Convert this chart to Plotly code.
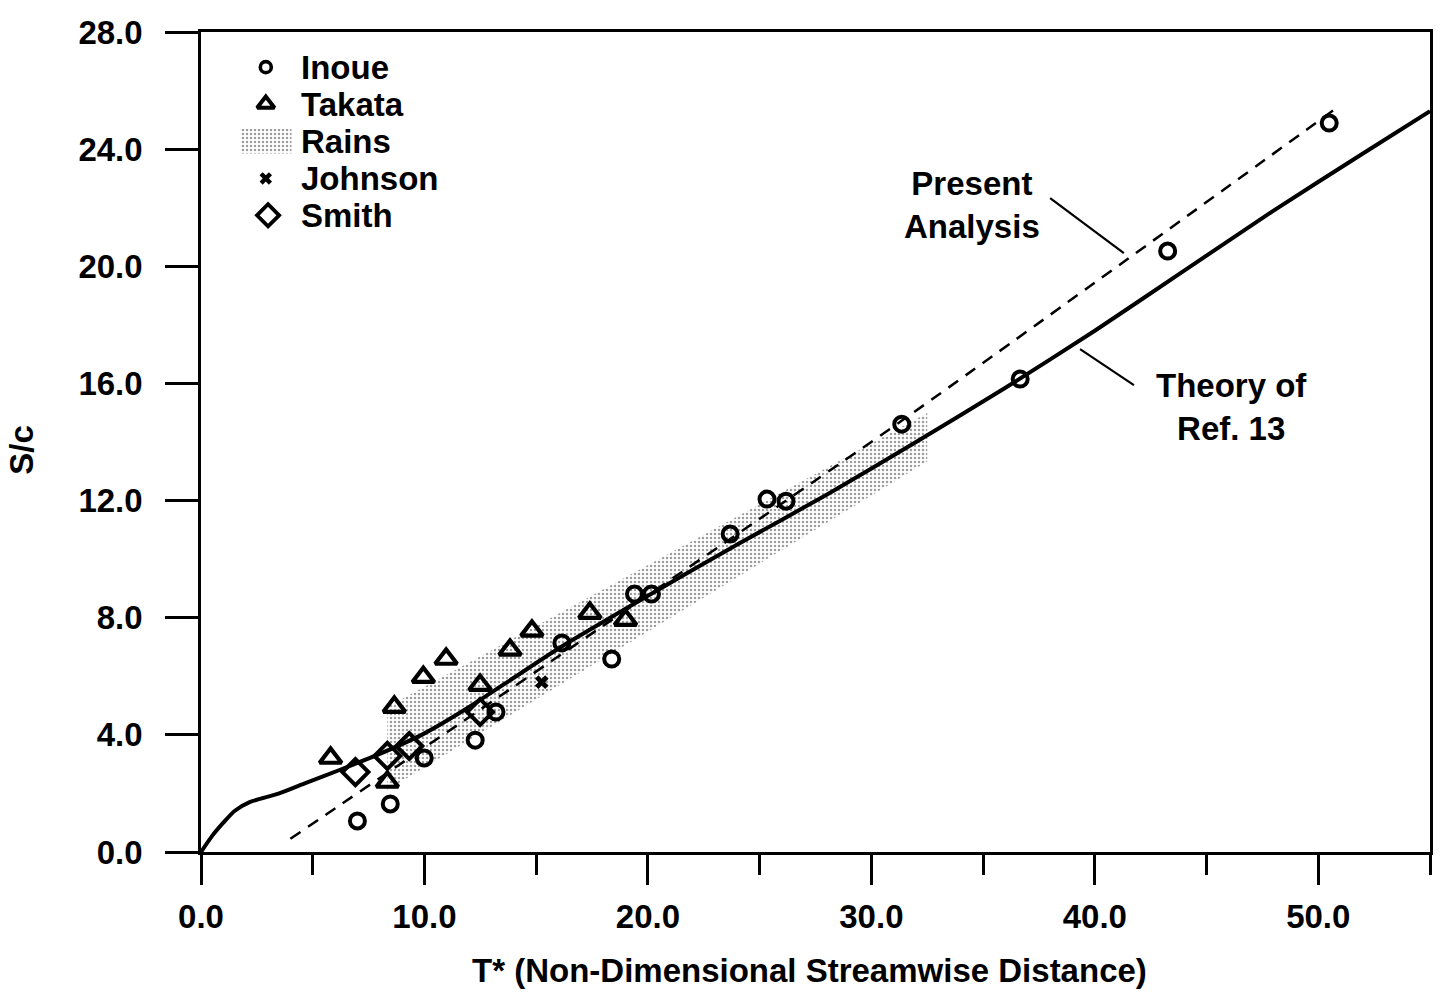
import plotly.graph_objects as go

# --- measured data -------------------------------------------------------
inoue_t = [7.0, 8.47, 9.99, 12.27, 13.2, 16.15, 18.38, 19.4, 20.16, 23.68,
           25.33, 26.18, 31.36, 36.66, 43.26, 50.49]
inoue_y = [1.06, 1.64, 3.21, 3.82, 4.78, 7.14, 6.59, 8.81, 8.81, 10.86,
           12.05, 11.98, 14.61, 16.15, 20.52, 24.89]

takata_t = [5.8, 8.65, 8.34, 9.95, 10.97, 12.49, 13.83, 14.81, 17.4, 19.0]
takata_y = [3.21, 4.95, 2.39, 5.97, 6.59, 5.70, 6.9, 7.55, 8.16, 7.92]

smith_t = [6.91, 8.34, 9.32, 12.49]
smith_y = [2.73, 3.28, 3.62, 4.78]

johnson_t = [15.25]
johnson_y = [5.8]

# Rains data band (outline of the scatter region)
rains_t = [8.34, 8.34, 32.5, 32.5, 8.34]
rains_y = [2.12, 4.95, 14.99, 13.33, 2.12]

# Present analysis
present_t = [4.0, 31.4, 50.9]
present_y = [0.45, 14.75, 25.45]

# Theory of Ref. 13
theory_t = [0.0, 0.5, 1.0, 1.5, 2.2, 3.5, 4.7, 6.2, 8.0, 10.0, 12.0, 14.0,
            16.0, 20.0, 24.0, 28.0, 32.0, 36.0, 40.0, 44.0, 48.0, 52.0, 55.0]
theory_y = [0.0, 0.55, 1.0, 1.4, 1.71, 2.0, 2.36, 2.8, 3.35, 4.05, 4.95, 5.95,
            6.95, 8.75, 10.5, 12.2, 14.0, 15.85, 17.8, 19.85, 21.9, 23.85, 25.3]

x_ticks = [0, 10, 20, 30, 40, 50]
x_labels = ["0.0", "10.0", "20.0", "30.0", "40.0", "50.0"]
y_ticks = [0, 4, 8, 12, 16, 20, 24, 28]
y_labels = ["0.0", "4.0", "8.0", "12.0", "16.0", "20.0", "24.0", "28.0"]

FONT = "Liberation Sans"
BLACK = "black"
stipple = dict(shape=".", fgcolor="#3a3a3a", bgcolor="white", size=4, solidity=0.3)
txt = dict(family=FONT, size=33, color=BLACK, weight=700)

fig = go.Figure()

# stippled band
fig.add_trace(go.Scatter(x=rains_t, y=rains_y, mode="lines", fill="toself",
                         fillpattern=stipple, line=dict(width=0),
                         fillcolor="rgba(0,0,0,0)", hoverinfo="skip"))

fig.add_trace(go.Scatter(x=theory_t, y=theory_y, mode="lines",
                         line=dict(color=BLACK, width=4, shape="spline", smoothing=0.6)))
fig.add_trace(go.Scatter(x=present_t, y=present_y, mode="lines",
                         line=dict(color=BLACK, width=2.5, dash="12px,9px", shape="spline",
                                   smoothing=0.6)))

circle = dict(symbol="circle-open", size=15, color=BLACK, line=dict(width=4, color=BLACK))
tri = dict(symbol="triangle-up-open", size=19, color=BLACK, line=dict(width=4.2, color=BLACK))
dia = dict(symbol="diamond-open", size=20, color=BLACK, line=dict(width=4, color=BLACK))
cross = dict(symbol="x", size=12, color=BLACK, line=dict(width=0))

fig.add_trace(go.Scatter(x=inoue_t, y=inoue_y, mode="markers", marker=circle))
fig.add_trace(go.Scatter(x=takata_t, y=takata_y, mode="markers", marker=tri))
fig.add_trace(go.Scatter(x=smith_t, y=smith_y, mode="markers", marker=dia))
fig.add_trace(go.Scatter(x=johnson_t, y=johnson_y, mode="markers", marker=cross))

# key
key_x = 2.9
key_rows = [26.8, 25.54, 24.27, 23.0, 21.74]
key_names = ["Inoue", "Takata", "Rains", "Johnson", "Smith"]
fig.add_trace(go.Scatter(x=[key_x], y=[key_rows[0]], mode="markers",
                         marker=dict(circle, size=11, line=dict(width=3.6, color=BLACK))))
fig.add_trace(go.Scatter(x=[key_x], y=[key_rows[1]], mode="markers",
                         marker=dict(tri, size=15, line=dict(width=4, color=BLACK))))
fig.add_trace(go.Scatter(x=[1.75, 1.75, 4.05, 4.05, 1.75],
                         y=[key_rows[2] - 0.42, key_rows[2] + 0.42, key_rows[2] + 0.42,
                            key_rows[2] - 0.42, key_rows[2] - 0.42],
                         mode="lines", fill="toself", fillpattern=stipple,
                         fillcolor="rgba(0,0,0,0)", line=dict(width=0)))
fig.add_trace(go.Scatter(x=[key_x], y=[key_rows[3]], mode="markers",
                         marker=dict(cross, size=11)))
fig.add_trace(go.Scatter(x=[key_x + 0.1], y=[key_rows[4]], mode="markers",
                         marker=dict(dia, size=17, line=dict(width=3.8, color=BLACK))))

annotations = []
for name, row in zip(key_names, key_rows):
    annotations.append(dict(x=4.4, y=row, xref="x", yref="y", text=name,
                            showarrow=False, xanchor="left", yanchor="middle", font=txt))

annotations.append(dict(x=34.52, y=22.09, xref="x", yref="y",
                        text="Present<br>Analysis", showarrow=False,
                        xanchor="center", yanchor="middle", align="center", font=txt))
annotations.append(dict(x=46.12, y=15.19, xref="x", yref="y",
                        text="Theory of<br>Ref. 13", showarrow=False,
                        xanchor="center", yanchor="middle", align="center", font=txt))
annotations.append(dict(x=0.495, y=-0.144, xref="paper", yref="paper",
                        text="T* (Non-Dimensional Streamwise Distance)", showarrow=False,
                        xanchor="center", yanchor="middle", font=txt))
annotations.append(dict(x=-0.146, y=0.49, xref="paper", yref="paper",
                        text="S/c", showarrow=False, textangle=-90,
                        xanchor="center", yanchor="middle", font=txt))

shapes = [
    dict(type="line", xref="x", yref="y", x0=38.0, y0=22.33, x1=41.3, y1=20.45,
         line=dict(color=BLACK, width=2.2)),
    dict(type="line", xref="x", yref="y", x0=39.34, y0=17.17, x1=41.75, y1=15.94,
         line=dict(color=BLACK, width=2.2)),
]

tickfont = txt
fig.update_layout(
    width=1442, height=1005,
    margin=dict(l=201, r=9, t=32, b=153),
    paper_bgcolor="white", plot_bgcolor="white",
    showlegend=False,
    annotations=annotations, shapes=shapes,
    xaxis=dict(range=[0, 55], tickvals=x_ticks, ticktext=x_labels,
               ticks="outside", ticklen=30, tickwidth=2.5, tickcolor=BLACK,
               minor=dict(dtick=5, tick0=0, ticks="outside", ticklen=20,
                          tickwidth=2.5, tickcolor=BLACK, showgrid=False),
               showline=True, linecolor=BLACK, linewidth=2.5, mirror=True,
               showgrid=False, zeroline=False, tickfont=tickfont,
               ticklabelstandoff=4),
    yaxis=dict(range=[0, 28], tickvals=y_ticks, ticktext=y_labels,
               ticks="outside", ticklen=33, tickwidth=2.5, tickcolor=BLACK,
               showline=True, linecolor=BLACK, linewidth=2.5, mirror=True,
               showgrid=False, zeroline=False, tickfont=tickfont,
               ticklabelstandoff=16),
)

fig.write_html("out.html")
